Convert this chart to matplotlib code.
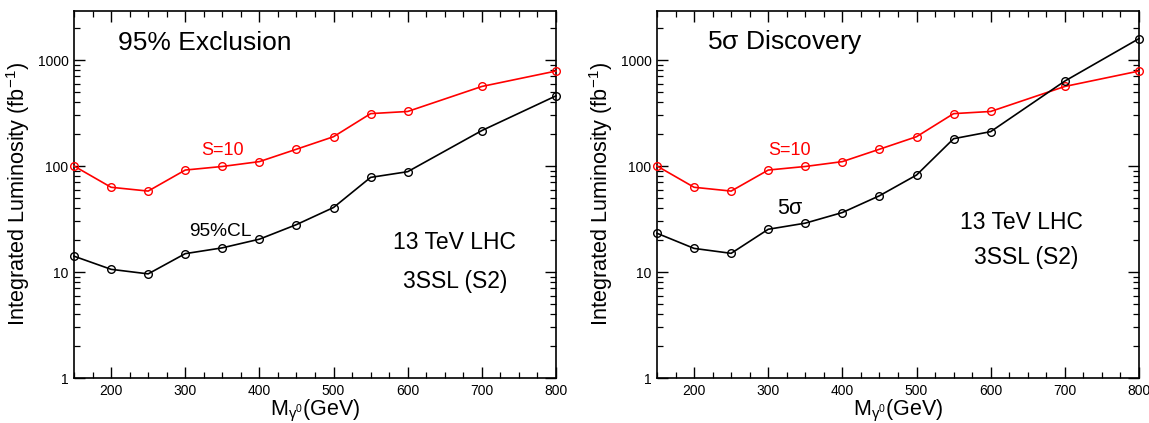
import matplotlib
matplotlib.use("Agg")
import matplotlib.pyplot as plt
from matplotlib.ticker import MultipleLocator, LogLocator, FixedLocator, NullFormatter, FixedFormatter

plt.rcParams['font.family'] = ['Liberation Sans', 'DejaVu Sans']
plt.rcParams['mathtext.fontset'] = 'custom'
plt.rcParams['mathtext.rm'] = 'Liberation Sans'
plt.rcParams['mathtext.it'] = 'Liberation Sans:italic'
plt.rcParams['mathtext.sf'] = 'Liberation Sans'

mass = [150, 200, 250, 300, 350, 400, 450, 500, 550, 600, 700, 800]
s10 = [100, 63, 58, 91.6, 99, 110, 144, 189, 312, 327, 563, 787]
excl95 = [14.1, 10.6, 9.6, 14.9, 16.9, 20.4, 28.0, 40.6, 78.1, 88.4, 216, 459]
disc5 = [23.2, 16.7, 15.0, 25.3, 28.9, 36.4, 52.4, 82.2, 181, 211, 633, 1592]

ytick_vals = [1, 10, 100, 1000]
ytick_labels = ["1", "10", "100", "1000"]
xtick_vals = [200, 300, 400, 500, 600, 700, 800]

fig = plt.figure(figsize=(11.49, 4.23), dpi=100)
ax1 = fig.add_axes([74/1149, 45/423, 482/1149, 367/423])
ax2 = fig.add_axes([657/1149, 45/423, 482/1149, 367/423])

panels = [
    (ax1, excl95, "95% Exclusion", (210, 1440), "95%CL", (347, 23.9), 13.8,
     (663, 19.0), (664, 8.2)),
    (ax2, disc5, r"5$\mathregular{\sigma}$ Discovery", (217, 1490), r"5$\mathregular{\sigma}$", (330, 39.8), 15.5,
     (641, 29.3), (648, 13.7)),
]

for ax, black, title, tpos, blabel, bpos, bsize, lhcpos, sslpos in panels:
    ax.plot(mass, s10, color='red', lw=1.2, marker='o', ms=5.5, mfc='none', mec='red', mew=1.0, clip_on=False, zorder=3)
    ax.plot(mass, black, color='black', lw=1.2, marker='o', ms=5.5, mfc='none', mec='black', mew=1.0, clip_on=False, zorder=3)
    ax.set_yscale('log')
    ax.set_xlim(150, 800)
    ax.set_ylim(1, 2900)
    ax.yaxis.set_major_locator(FixedLocator(ytick_vals))
    ax.yaxis.set_major_formatter(FixedFormatter(ytick_labels))
    ax.yaxis.set_minor_locator(LogLocator(base=10, subs=range(2, 10)))
    ax.yaxis.set_minor_formatter(NullFormatter())
    ax.xaxis.set_major_locator(FixedLocator(xtick_vals))
    ax.xaxis.set_minor_locator(MultipleLocator(25))
    ax.tick_params(which='both', direction='in', top=True, right=True, labelsize=10, pad=4)
    ax.tick_params(which='major', length=8, width=1.0)
    ax.tick_params(which='minor', length=4, width=0.9)
    for sp in ax.spines.values():
        sp.set_linewidth(1.2)
    ax.set_ylabel(r"Integrated Luminosity (fb$^{\mathregular{-1}}$)", fontsize=15.6, labelpad=4)
    ax.set_xlabel(r"M$_{\mathregular{\gamma}^{\mathregular{0}}}$(GeV)", fontsize=15.5, labelpad=0)
    ax.text(tpos[0], tpos[1], title, fontsize=19, ha='left', va='center')
    ax.text(350 if ax is ax1 else 329, 140, "S=10", color='red', fontsize=13, ha='center', va='center')
    ax.text(bpos[0], bpos[1], blabel, fontsize=bsize, ha='center', va='center')
    ax.text(lhcpos[0], lhcpos[1], "13 TeV LHC", fontsize=16.5, ha='center', va='center')
    ax.text(sslpos[0], sslpos[1], "3SSL (S2)", fontsize=16.5, ha='center', va='center')

fig.savefig("out.png", dpi=100)
